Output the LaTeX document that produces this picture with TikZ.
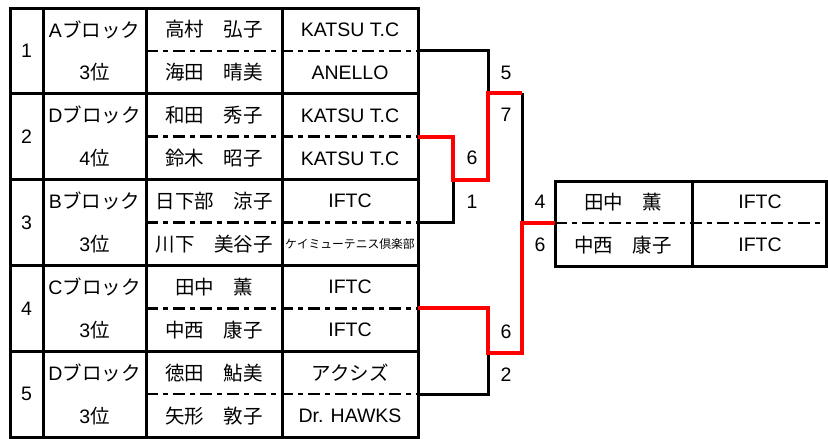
\documentclass[tikz,border=0pt]{standalone}
\usepackage{fontspec}
\setmainfont{Liberation Sans}
\newfontfamily\jp{Noto Sans CJK JP}
\usetikzlibrary{positioning}

\begin{document}
\begin{tikzpicture}[
                x = 1pt,
                y = -1pt,
                frame/.style = {line width = 3pt, black},
                tie/.style = {line width = 2.5pt, black, dash pattern = on 12pt off 5pt on 5pt off 5pt},
                win/.style = {line width = 4pt, red},
                lose/.style = {line width = 3pt, black},
                txt/.style = {font = \fontsize{19.5}{19.5}\selectfont, inner sep = 0pt},
                player/.style = {font = \jp\fontsize{19.5}{19.5}\selectfont, inner sep = 0pt},
                club/.style = {font = \jp\fontsize{11.8}{11.8}\selectfont, inner sep = 0pt}
            ]
            \useasboundingbox (0,0) rectangle (828,439);
            % 
            \draw[frame] (10,8) rectangle (418,437);
            \draw[frame] (43,8) -- (43,437);
            \draw[frame] (146,8) -- (146,437);
            \draw[frame] (282,8) -- (282,437);
            \foreach \g in {1,...,4}
                \draw[frame] (10,8+85.8*\g) -- (418,8+85.8*\g);
            \foreach \g in {0,...,4}
                \draw[tie] (146,50.9+85.8*\g) -- (418,50.9+85.8*\g);
            % 
            \node[txt] (n1) at (26.5,50.9) {1};
            \node[txt] (b1) at (94.5,29.5) {A{\jp ブロック}};
            \node[txt] (r1) at (94.5,72.5) {3{\jp 位}};
            \node[player] (a1) at (214,29.5) {高村　弘子};
            \node[player] (a2) at (214,72.5) {海田　晴美};
            \node[txt] (c1) at (350,29.5) {KATSU T.C};
            \node[txt] (c2) at (350,72.5) {ANELLO};
            % 
            \node[txt] (n2) at (26.5,136.7) {2};
            \node[txt] (b2) at (94.5,115.3) {D{\jp ブロック}};
            \node[txt] (r2) at (94.5,158.3) {4{\jp 位}};
            \node[player] (a3) at (214,115.3) {和田　秀子};
            \node[player] (a4) at (214,158.3) {鈴木　昭子};
            \node[txt] (c3) at (350,115.3) {KATSU T.C};
            \node[txt] (c4) at (350,158.3) {KATSU T.C};
            % 
            \node[txt] (n3) at (26.5,222.5) {3};
            \node[txt] (b3) at (94.5,201.1) {B{\jp ブロック}};
            \node[txt] (r3) at (94.5,244.1) {3{\jp 位}};
            \node[player] (a5) at (214,201.1) {日下部　涼子};
            \node[player] (a6) at (214,244.1) {川下　美谷子};
            \node[txt] (c5) at (350,201.1) {IFTC};
            \node[club] (c6) at (350,244.1) {ケイミューテニス倶楽部};
            % 
            \node[txt] (n4) at (26.5,308.3) {4};
            \node[txt] (b4) at (94.5,286.9) {C{\jp ブロック}};
            \node[txt] (r4) at (94.5,329.9) {3{\jp 位}};
            \node[player] (a7) at (214,286.9) {田中　薫};
            \node[player] (a8) at (214,329.9) {中西　康子};
            \node[txt] (c7) at (350,286.9) {IFTC};
            \node[txt] (c8) at (350,329.9) {IFTC};
            % 
            \node[txt] (n5) at (26.5,394.1) {5};
            \node[txt] (b5) at (94.5,372.7) {D{\jp ブロック}};
            \node[txt] (r5) at (94.5,415.7) {3{\jp 位}};
            \node[player] (a9) at (214,372.7) {徳田　鮎美};
            \node[player] (a10) at (214,415.7) {矢形　敦子};
            \node[player] (c9) at (350,372.7) {アクシズ};
            \node[txt] (c10) at (350,415.7) {Dr. HAWKS};
            % 
            % final box
            \draw[frame] (555,181) rectangle (826.5,266);
            \draw[frame] (692,181) -- (692,266);
            \draw[tie] (555,223) -- (826.5,223);
            \node[player] (w1) at (623,202) {田中　薫};
            \node[txt] (w2) at (760,202) {IFTC};
            \node[player] (w3) at (623,245) {中西　康子};
            \node[txt] (w4) at (760,245) {IFTC};
            % 
            % bracket
            \coordinate (p1) at (418,50.9);
            \coordinate (p2) at (418,136.7);
            \coordinate (p3) at (418,222.5);
            \coordinate (p4) at (418,308.3);
            \coordinate (p5) at (418,394.1);
            \coordinate (m1) at (453,180);
            \coordinate (m2) at (488,93);
            \coordinate (m3) at (488,353);
            \coordinate (fin) at (522,223);
            \coordinate (f1) at (555,223);
            % 
            \draw[lose] (p1) -| (m2);
            \draw[lose] (p3) -| (m1);
            \draw[lose] (p5) -| (m3);
            \draw[lose] (m2 -| fin) -- (fin);
            % 
            \draw[win] (p2) -| (m1) -- (m1 -| m2) -- (m2) -- (m2 -| fin);
            \draw[win] (p4) -| (m3) -- (m3 -| fin) -- (fin) -- (f1);
            % 
            \node[txt] (s1) at (472,158) {6};
            \node[txt] (s2) at (472,202) {1};
            \node[txt] (s3) at (506,73) {5};
            \node[txt] (s4) at (506,115) {7};
            \node[txt] (s5) at (506,332) {6};
            \node[txt] (s6) at (506,375) {2};
            \node[txt] (s7) at (540,202) {4};
            \node[txt] (s8) at (540,245) {6};
            % 
        \end{tikzpicture}
\end{document}
